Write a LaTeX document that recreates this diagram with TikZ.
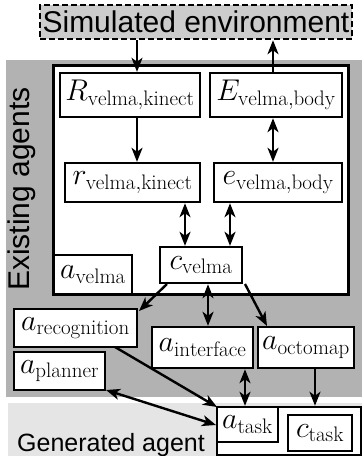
\documentclass[tikz,border=0pt]{standalone}
\usepackage{fix-cm}
\usepackage{fontspec}
\newfontfamily\sansf{Liberation Sans}
\usetikzlibrary{arrows.meta}
\newcommand{\mfont}{\fontsize{30}{34}\selectfont}
\tikzset{
  box/.style={draw, line width=2.4pt, fill=white, inner sep=0pt, font=\mfont},
  tip/.tip={Stealth[length=14pt,width=11pt,inset=4pt]},
  arr/.style={line width=2.4pt, -tip},
  darr/.style={line width=2.4pt, tip-tip},
}
\begin{document}
\begin{tikzpicture}[x=1pt,y=-1pt]
\useasboundingbox (0,0) rectangle (362,456);
% backgrounds
\fill[black!30] (6,60) rectangle (362,397);
\fill[black!10] (8,403) rectangle (362,456);
\node[draw, dash pattern=on 6pt off 3pt, line width=2.4pt, fill=black!20, minimum width=312pt, minimum height=34pt, inner sep=0pt, font=\sansf\fontsize{30}{34}\selectfont] (env) at (196,22) {Simulated environment};
\node[draw, line width=3pt, fill=white, minimum width=295pt, minimum height=229pt, inner sep=0pt] (agent) at (200.5,179.5) {};
\node[rotate=90, font=\sansf\fontsize{30}{34}\selectfont] (exist) at (22,189) {Existing agents};
\node[font=\sansf\fontsize{25}{30}\selectfont, anchor=base] (gen) at (111,451) {Generated agent};
\node[draw, line width=2.6pt, fill=white, minimum width=144pt, minimum height=48pt, inner sep=0pt] (genbox) at (289,431) {};
% boxes
\node[box, minimum width=140pt, minimum height=44pt] (R) at (130,95) {$R_{\mathrm{velma{,}kinect}}$};
\node[box, minimum width=132pt, minimum height=44pt] (E) at (276,95) {$E_{\mathrm{velma{,}body}}$};
\node[box, minimum width=135pt, minimum height=39pt] (r) at (132.5,182.5) {$r_{\mathrm{velma{,}kinect}}$};
\node[box, minimum width=128pt, minimum height=39pt] (e) at (278,182.5) {$e_{\mathrm{velma{,}body}}$};
\node[box, minimum width=78pt, minimum height=39pt] (av) at (93,274.5) {$a_{\mathrm{velma}}$};
\node[box, minimum width=82pt, minimum height=36pt] (cv) at (201,265) {$c_{\mathrm{velma}}$};
\node[box, minimum width=123pt, minimum height=38pt] (arec) at (75.5,328) {$a_{\mathrm{recognition}}$};
\node[box, minimum width=91pt, minimum height=38pt] (apl) at (59.5,371) {$a_{\mathrm{planner}}$};
\node[box, minimum width=101pt, minimum height=41pt] (aint) at (202.5,347.5) {$a_{\mathrm{interface}}$};
\node[box, minimum width=96pt, minimum height=41pt] (aoct) at (306,347.5) {$a_{\mathrm{octomap}}$};
\node[box, minimum width=61pt, minimum height=35pt] (atask) at (247.5,424.5) {$a_{\mathrm{task}}$};
\node[box, minimum width=64pt, minimum height=36pt] (ctask) at (320,433) {$c_{\mathrm{task}}$};
% x positions
\coordinate (xa) at (137,0);
\coordinate (xb) at (273,0);
\coordinate (xc) at (185,0);
\coordinate (xd) at (230,0);
\coordinate (xe) at (208,0);
\coordinate (xf) at (245,0);
\coordinate (xg) at (315,0);
% connectors
\draw[arr] (env.south -| xa) -- (R.north -| xa);
\draw[arr] (E.north -| xb) -- (env.south -| xb);
\draw[arr] (R.south -| xa) -- (r.north -| xa);
\draw[darr] (E.south -| xb) -- (e.north -| xb);
\draw[darr] (r.south -| xc) -- (cv.north -| xc);
\draw[darr] (e.south -| xd) -- (cv.north -| xd);
\draw[darr] (cv.south -| xe) -- (aint.north -| xe);
\coordinate (c1) at (167,284);
\coordinate (c2) at (139,311);
\coordinate (c3) at (245,284);
\coordinate (c4) at (267,326);
\draw[arr] (c1) -- (c2);
\draw[arr] (c3) -- (c4);
\draw[darr] (aint.south -| xf) -- (atask.north -| xf);
\draw[arr] (aoct.south -| xg) -- (genbox.north -| xg);
\coordinate (p1) at (115,347);
\coordinate (p2) at (217,407);
\draw[arr] (p1) -- (p2);
\coordinate (q1) at (106,390);
\coordinate (q2) at (216,425);
\draw[darr] (q1) -- (q2);
\end{tikzpicture}
\end{document}
